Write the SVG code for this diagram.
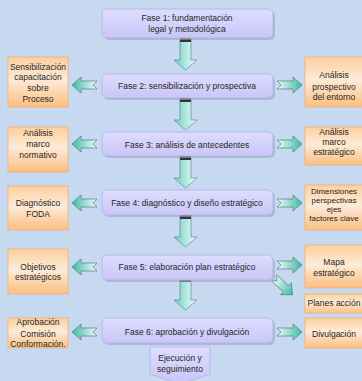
<svg xmlns="http://www.w3.org/2000/svg" width="362" height="381" viewBox="0 0 362 381">
<defs>
<linearGradient id="ph" x1="0" y1="0" x2="0" y2="1"><stop offset="0" stop-color="#dedcff"/><stop offset="1" stop-color="#c9c6f7"/></linearGradient>
<linearGradient id="og" x1="0" y1="0" x2="0" y2="1"><stop offset="0" stop-color="#fccf9c"/><stop offset="0.45" stop-color="#fdebd8"/><stop offset="1" stop-color="#fbbf80"/></linearGradient>
<linearGradient id="ah" x1="0" y1="0" x2="1" y2="0"><stop offset="0" stop-color="#3fb8a6"/><stop offset="1" stop-color="#f0fcfa"/></linearGradient>
<linearGradient id="ahr" x1="1" y1="0" x2="0" y2="0"><stop offset="0" stop-color="#3fb8a6"/><stop offset="1" stop-color="#f0fcfa"/></linearGradient>
<linearGradient id="av" x1="0" y1="0" x2="1" y2="0"><stop offset="0" stop-color="#6fcfc0"/><stop offset="1" stop-color="#f2fdfb"/></linearGradient>
<path id="la" d="M0,8 L9,0 L9,4 L25,4 L21,8 L25,12 L9,12 L9,16 Z"/>
<path id="ra" d="M25,8 L16,0 L16,4 L0,4 L4,8 L0,12 L16,12 L16,16 Z"/>
<g id="da"><path d="M7,0 L18,0 L18,22 L24,22 L12.5,32 L1,22 L7,22 Z"/><rect x="7" y="0" width="11" height="4" fill="#333" stroke="none"/></g>
</defs>
<style>
.ph{fill:url(#ph);stroke:#b3b0e6;stroke-width:0.8}
.sh{fill:#9aa6c0;opacity:0.6}
.ob{fill:url(#og);stroke:#f3a35a;stroke-width:0.6}
.la{fill:url(#ah);stroke:#4d7f79;stroke-width:0.7}
.ra{fill:url(#ahr);stroke:#4d7f79;stroke-width:0.7}
.da{fill:url(#av);stroke:#5d8a86;stroke-width:0.7}
text{font-family:"Liberation Sans",Arial,sans-serif;font-size:8.5px;fill:#262626;text-anchor:middle}
.sm{font-size:8px}
</style>
<rect width="362" height="381" fill="#c6d9f0"/>

<g id="connectors">
<use href="#da" class="da" x="173" y="38"/>
<use href="#da" class="da" x="173" y="98"/>
<use href="#da" class="da" x="173" y="156"/>
<use href="#da" class="da" x="173" y="215"/>
<use href="#da" class="da" x="173" y="278"/>
<use href="#la" class="la" x="72" y="77"/>
<use href="#ra" class="ra" x="277" y="77"/>
<use href="#la" class="la" x="72" y="136"/>
<use href="#ra" class="ra" x="277" y="136"/>
<use href="#la" class="la" x="72" y="195"/>
<use href="#ra" class="ra" x="277" y="195"/>
<use href="#la" class="la" x="72" y="259"/>
<use href="#ra" class="ra" x="277" y="257"/>
<use href="#ra" class="ra" transform="translate(274,278) rotate(42) translate(0,-8)"/>
<use href="#la" class="la" x="72" y="324"/>
<use href="#ra" class="ra" x="277" y="324"/>
</g>

<g id="fase1"><rect class="sh" x="104" y="11" width="171" height="29" rx="5"/><rect class="ph" x="102" y="9" width="171" height="29" rx="5"/><text x="187" y="21">Fase 1: fundamentación</text><text x="187" y="32">legal y metodológica</text></g>
<g id="fase2"><rect class="sh" x="104" y="76" width="171" height="24" rx="5"/><rect class="ph" x="102" y="74" width="171" height="24" rx="5"/><text x="187" y="89">Fase 2: sensibilización y prospectiva</text></g>
<g id="fase3"><rect class="sh" x="104" y="134" width="171" height="24" rx="5"/><rect class="ph" x="102" y="132" width="171" height="24" rx="5"/><text x="187" y="148">Fase 3: análisis de antecedentes</text></g>
<g id="fase4"><rect class="sh" x="104" y="192" width="171" height="25" rx="5"/><rect class="ph" x="102" y="190" width="171" height="25" rx="5"/><text x="187" y="206">Fase 4: diagnóstico y diseño estratégico</text></g>
<g id="fase5"><rect class="sh" x="104" y="257" width="171" height="25" rx="5"/><rect class="ph" x="102" y="255" width="171" height="25" rx="5"/><text x="187" y="270">Fase 5: elaboración plan estratégico</text></g>
<g id="fase6"><rect class="sh" x="104" y="320" width="171" height="25" rx="5"/><rect class="ph" x="102" y="318" width="171" height="25" rx="5"/><text x="187" y="335">Fase 6: aprobación y divulgación</text></g>
<g id="ejecucion"><path class="ph" d="M150,347 L210,347 L210,374 L180,384 L150,374 Z"/><text x="180" y="361">Ejecución y</text><text x="180" y="372">seguimiento</text></g>

<g id="l2"><rect class="ob" x="8" y="57" width="60" height="50"/><text x="38" y="70">Sensibilización</text><text x="38" y="80">capacitación</text><text x="38" y="91">sobre</text><text x="38" y="102">Proceso</text></g>
<g id="r2"><rect class="ob" x="305" y="57" width="62" height="50"/><text x="334" y="78">Análisis</text><text x="334" y="90">prospectivo</text><text x="334" y="100">del entorno</text></g>
<g id="l3"><rect class="ob" x="8" y="127" width="60" height="45"/><text x="38" y="136">Análisis</text><text x="38" y="147">marco</text><text x="38" y="158">normativo</text></g>
<g id="r3"><rect class="ob" x="305" y="127" width="62" height="38"/><text x="334" y="135">Análisis</text><text x="334" y="145">marco</text><text x="334" y="155">estratégico</text></g>
<g id="l4"><rect class="ob" x="8" y="186" width="60" height="44"/><text x="38" y="206">Diagnóstico</text><text x="38" y="217">FODA</text></g>
<g id="r4"><rect class="ob" x="305" y="185" width="62" height="45"/><text class="sm" x="334" y="194">Dimensiones</text><text class="sm" x="334" y="203">perspectivas</text><text class="sm" x="334" y="212">ejes</text><text class="sm" x="334" y="221">factores clave</text></g>
<g id="l5"><rect class="ob" x="8" y="249" width="60" height="45"/><text x="38" y="270">Objetivos</text><text x="38" y="280">estratégicos</text></g>
<g id="r5"><rect class="ob" x="305" y="245" width="62" height="43"/><text x="334" y="265">Mapa</text><text x="334" y="276">estratégico</text></g>
<g id="r5b"><rect class="ob" x="305" y="294" width="62" height="19"/><text x="334" y="306">Planes acción</text></g>
<g id="l6"><rect class="ob" x="8" y="318" width="60" height="30"/><text x="38" y="325">Aprobación</text><text x="38" y="337">Comisión</text><text x="38" y="347">Conformación.</text></g>
<g id="r6"><rect class="ob" x="305" y="318" width="62" height="30"/><text x="334" y="337">Divulgación</text></g>
</svg>
